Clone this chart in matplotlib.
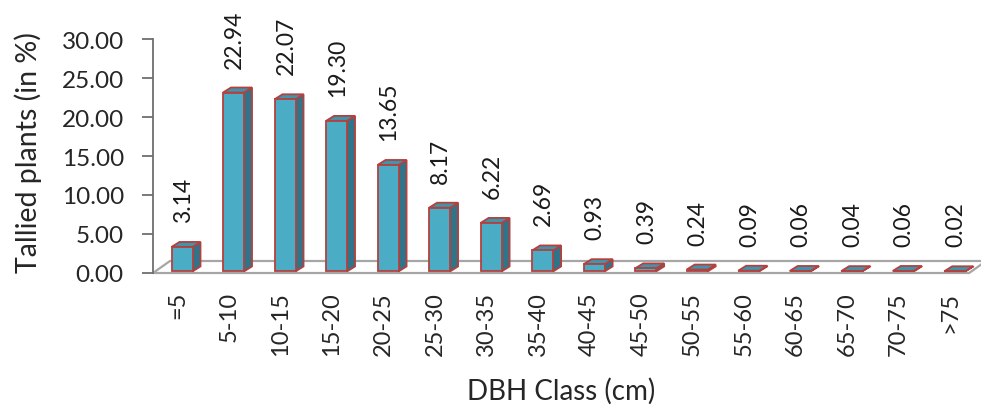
import matplotlib
matplotlib.use("Agg")
import matplotlib.pyplot as plt
from matplotlib.patches import Polygon, Rectangle

# DBH classes and share of tallied plants
categories = ["=5", "5-10", "10-15", "15-20", "20-25", "25-30", "30-35", "35-40",
              "40-45", "45-50", "50-55", "55-60", "60-65", "65-70", "70-75", ">75"]
values = [3.14, 22.94, 22.07, 19.30, 13.65, 8.17, 6.22, 2.69,
          0.93, 0.39, 0.24, 0.09, 0.06, 0.04, 0.06, 0.02]
yticks = [0, 5, 10, 15, 20, 25, 30]

FONT = ["Lato", "DejaVu Sans"]
plt.rcParams["font.family"] = FONT

W, H = 981, 410
fig = plt.figure(figsize=(W / 100, H / 100), dpi=100)
ax = fig.add_axes([153 / W, 136 / H, 828 / W, 234 / H])

x0 = -0.563
x1 = 15.51
ax.set_xlim(x0, x1)
ax.set_ylim(0, 30)

# pixel -> data conversion helpers for the pseudo-3D offsets
px_x = (x1 - x0) / 828.0
px_y = 30.0 / 234.0

# floor of the 3D plot
fdx, fdy = 17 * px_x, 12 * px_y
floor_right = 15.28
floor = Polygon([(x0, 0), (floor_right, 0), (floor_right + fdx, fdy), (x0 + fdx, fdy)],
                closed=True, facecolor="white", edgecolor="#A6A6A6", linewidth=1.6,
                zorder=1, clip_on=False)
ax.add_patch(floor)

front_col = "#4BACC6"
side_col = "#2F7489"
top_col = "#3E95AC"
edge_col = "#B5403E"

half_w = 10.5 * px_x
bdx, bdy = 8 * px_x, 5 * px_y
base = 0.2

for i, v in enumerate(values):
    left, right = i - half_w, i + half_w
    top = base + v
    side = Polygon([(right, base), (right + bdx, base + bdy), (right + bdx, top + bdy), (right, top)],
                   closed=True, facecolor=side_col, edgecolor=edge_col, linewidth=1.3, zorder=3)
    topf = Polygon([(left, top), (right, top), (right + bdx, top + bdy), (left + bdx, top + bdy)],
                   closed=True, facecolor=top_col, edgecolor=edge_col, linewidth=1.3, zorder=3)
    front = Rectangle((left, base), right - left, v, facecolor=front_col,
                      edgecolor=edge_col, linewidth=1.3, zorder=4)
    ax.add_patch(side)
    ax.add_patch(topf)
    ax.add_patch(front)
    ax.text(i + 0.02, top + bdy + 20 * px_y, f"{v:.2f}", rotation=90, ha="center", va="bottom",
            fontsize=16.5, color="#1a1a1a", clip_on=False, zorder=5)

# axes styling
for s in ["top", "right", "bottom"]:
    ax.spines[s].set_visible(False)
ax.spines["left"].set_color("#6E6E6E")
ax.spines["left"].set_linewidth(1.3)
ax.set_yticks(yticks)
ax.set_yticklabels([f"{t:.2f}" for t in yticks])
ax.tick_params(axis="y", direction="out", length=8, width=1.3, color="#6E6E6E",
               pad=13, labelsize=17.5, labelcolor="#262626")

ax.set_xticks([i - 0.09 for i in range(len(categories))])
ax.set_xticklabels(categories, rotation=90, fontsize=17, color="#262626")
ax.tick_params(axis="x", length=0, pad=13)

ax.set_ylabel("Tallied plants (in %)", fontsize=20.5, color="#262626")
ax.set_xlabel("DBH Class (cm)", fontsize=20, color="#262626")
ax.xaxis.set_label_coords((561 - 153) / 828, -(378 - 274) / 234)
ax.yaxis.set_label_coords(-(153 - 42) / 828, (274 - 153) / 234)

fig.savefig("out.png", dpi=100, facecolor="white")
